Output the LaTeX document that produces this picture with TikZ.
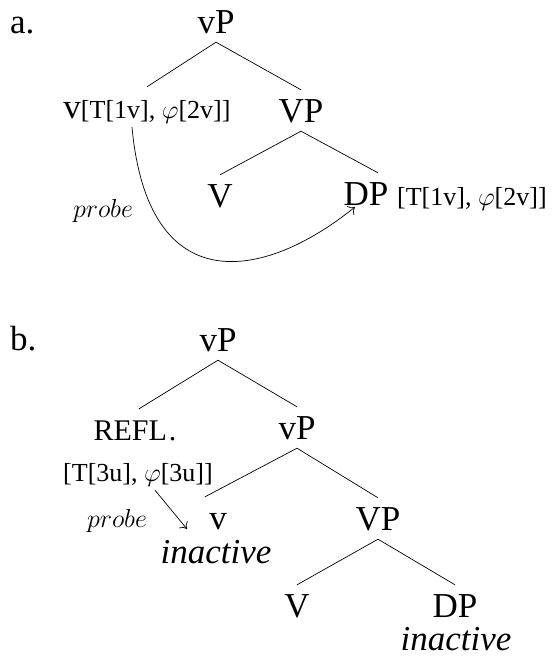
\RequirePackage{fix-cm}
\documentclass[tikz,border=0pt]{standalone}
\usepackage{fontspec}
\setmainfont{Liberation Serif}
\usetikzlibrary{arrows.meta}
\tikzset{
  big/.style={font=\fontsize{35}{40}\selectfont, inner xsep=0pt, inner ysep=9pt,
    text height=23pt, text depth=0pt, anchor=base},
  small/.style={font=\fontsize{26}{30}\selectfont, inner xsep=0pt, inner ysep=9pt,
    text height=22pt, text depth=0pt, anchor=base},
  lbl/.style={font=\fontsize{35}{40}\selectfont, inner sep=0pt, anchor=base west},
  probelbl/.style={font=\fontsize{26}{30}\selectfont, inner sep=0pt, anchor=base},
  ital/.style={font=\fontsize{35}{40}\selectfont\itshape, inner sep=0pt, anchor=base},
  edge/.style={line width=0.7pt},
  probearrow/.style={line width=0.7pt, -{To[length=6pt,width=11pt]}},
}
\begin{document}
\begin{tikzpicture}[x=1pt,y=-1pt]
\useasboundingbox (0,0) rectangle (554,662);
% ---------- a ----------
\node[lbl] (la) at (10,33) {a.};
\node[big] (vPa) at (216,33) {vP};
\node[small] (vxa) at (147,118) {{\fontsize{35}{40}\selectfont v}[T[1v], $\varphi$[2v]]};
\node[big] (VPa) at (301,122) {VP};
\node[big] (Va) at (220,207) {V};
\node[big] (DPa) at (366,205) {DP};
\node[small, anchor=base west] (featA) at (397,205) {[T[1v], $\varphi$[2v]]};
\node[probelbl] (probeA) at (103,217) {$probe$};
\coordinate (tipA) at (355,207);
\draw[edge] (vPa.south) -- (vxa.north);
\draw[edge] (vPa.south) -- (VPa.north);
\draw[edge] (VPa.south) -- (Va.north);
\draw[edge] (VPa.south) -- ([xshift=12pt]DPa.north);
\draw[probearrow] ([xshift=-15pt]vxa.south) .. controls (148,300) and (262,282) .. (tipA);
% ---------- b ----------
\node[lbl] (lb) at (10,350) {b.};
\node[big] (vPb1) at (218,351) {vP};
\node[small, font=\fontsize{30}{34}\selectfont] (refl) at (135,440) {REFL\kern2pt.};
\node[big] (vPb2) at (297,439) {vP};
\node[small] (featB) at (138,481) {[T[3u], $\varphi$[3u]]};
\node[probelbl] (probeB) at (117,527) {$probe$};
\node[big] (vb) at (218,529) {v};
\node[ital] (inact1) at (216,563) {inactive};
\coordinate (tipB) at (187,529);
\node[big] (VPb) at (378,530) {VP};
\node[big] (Vb) at (297,617) {V};
\node[big] (DPb) at (455,617) {DP};
\node[ital] (inact2) at (456,650) {inactive};
\draw[edge] (vPb1.south) -- ([xshift=4pt]refl.north);
\draw[edge] (vPb1.south) -- (vPb2.north);
\draw[edge] (vPb2.south) -- ([xshift=-13pt]vb.north);
\draw[edge] (vPb2.south) -- (VPb.north);
\draw[edge] (VPb.south) -- (Vb.north);
\draw[edge] (VPb.south) -- (DPb.north);
\draw[probearrow] ([xshift=17pt]featB.south) -- (tipB);
\end{tikzpicture}
\end{document}
